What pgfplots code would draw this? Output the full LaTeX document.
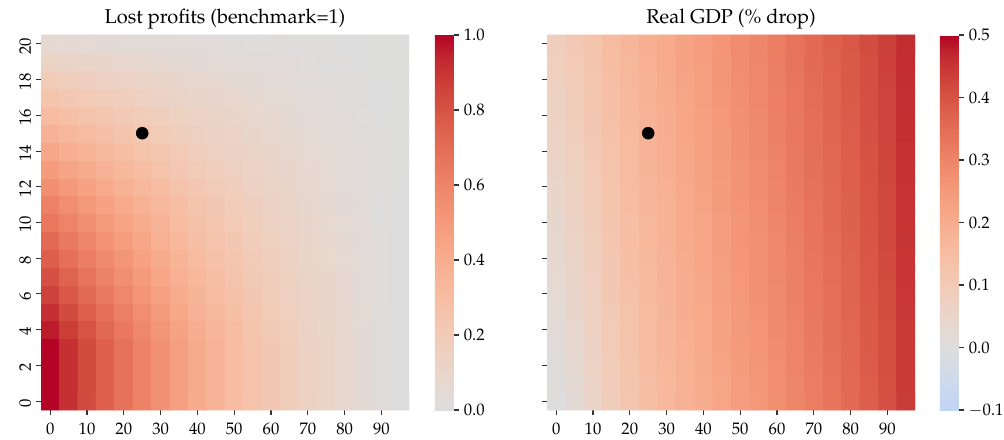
\documentclass[border=0pt]{standalone}
\usepackage[T1]{fontenc}
\usepackage{mathpazo}
\usepackage{pgfplots}
\pgfplotsset{compat=1.18}
\pgfplotsset{
  colormap={cwL}{rgb=(0.8654,0.8654,0.8654) rgb=(0.8978,0.8489,0.8209) rgb=(0.9241,0.8274,0.7745) rgb=(0.9445,0.8009,0.7267) rgb=(0.9589,0.7698,0.6780) rgb=(0.9673,0.7341,0.6288) rgb=(0.9700,0.6943,0.5794) rgb=(0.9668,0.6504,0.5303) rgb=(0.9580,0.6028,0.4818) rgb=(0.9437,0.5518,0.4342) rgb=(0.9239,0.4973,0.3880) rgb=(0.8990,0.4396,0.3432) rgb=(0.8692,0.3783,0.3003) rgb=(0.8346,0.3129,0.2593) rgb=(0.7956,0.2413,0.2205) rgb=(0.7525,0.1572,0.1841) rgb=(0.7057,0.0156,0.1502)},
  colormap={cwR}{rgb(0pt)=(0.7536,0.8302,0.9608) rgb(2pt)=(0.7615,0.8343,0.9569) rgb(12pt)=(0.7987,0.8498,0.9317) rgb(22pt)=(0.8335,0.8602,0.9011) rgb(32pt)=(0.8654,0.8654,0.8654) rgb(42pt)=(0.8978,0.8489,0.8209) rgb(52pt)=(0.9241,0.8274,0.7745) rgb(62pt)=(0.9445,0.8009,0.7267) rgb(72pt)=(0.9589,0.7698,0.6780) rgb(82pt)=(0.9673,0.7341,0.6288) rgb(92pt)=(0.9700,0.6943,0.5794) rgb(102pt)=(0.9668,0.6504,0.5303) rgb(112pt)=(0.9580,0.6028,0.4818) rgb(122pt)=(0.9437,0.5518,0.4342) rgb(132pt)=(0.9239,0.4973,0.3880) rgb(142pt)=(0.8990,0.4396,0.3432) rgb(152pt)=(0.8692,0.3783,0.3003) rgb(162pt)=(0.8346,0.3129,0.2593) rgb(172pt)=(0.7956,0.2413,0.2205) rgb(182pt)=(0.7525,0.1572,0.1841) rgb(192pt)=(0.7057,0.0156,0.1502)},
  heat/.style={
    scale only axis, width=265pt, height=270pt,
    xmin=-2.5, xmax=97.5, ymin=-0.5, ymax=20.5,
    axis line style={draw=none},
    tick align=outside, xtick pos=bottom, ytick pos=left,
    major tick length=3.6pt,
    tick style={line width=0.8pt, color=black!80},
    xtick={0,10,20,30,40,50,60,70,80,90},
    ytick={0,2,4,6,8,10,12,14,16,18,20},
    yticklabel style={rotate=90, anchor=south, xshift=-1.5pt},
    xticklabel style={yshift=-2pt},
    tick label style={font=\fontsize{12}{14}\selectfont},
    every axis title shift=0pt,
    title style={font=\fontsize{14.4}{17}\selectfont, at={(0.5,1)}, anchor=base, yshift=8.6pt},
    colorbar,
  },
  cbar/.style={
    at={(parent axis.south east)}, anchor=south west,
    scale only axis, width=13.7pt, height=270pt,
    axis line style={draw=none},
    xtick=\empty, ytick pos=right, yticklabel pos=right,
    tick align=outside, major tick length=3.6pt,
    tick style={line width=0.8pt, color=black!80},
    yticklabel style={font=\fontsize{12}{14}\selectfont, /pgf/number format/.cd, fixed, fixed zerofill, precision=1},
  },
}
\begin{document}
\begin{tikzpicture}
\useasboundingbox (-29.52pt,-20.88pt) rectangle (693.36pt,295.2pt);
\begin{axis}[heat, at={(0pt,0pt)}, anchor=south west,
  title={Lost profits (benchmark=1)},
  colormap name=cwL, point meta min=0, point meta max=1,
  colorbar style={cbar, xshift=10.1pt, ytick={0,0.2,0.4,0.6,0.8,1}}]
\addplot[matrix plot*, mesh/cols=20, point meta=explicit] coordinates {
(0,0)[1.00] (5,0)[0.91] (10,0)[0.83] (15,0)[0.75] (20,0)[0.68] (25,0)[0.61] (30,0)[0.54] (35,0)[0.47] (40,0)[0.41] (45,0)[0.36] (50,0)[0.31] (55,0)[0.26] (60,0)[0.22] (65,0)[0.18] (70,0)[0.14] (75,0)[0.11] (80,0)[0.08] (85,0)[0.05] (90,0)[0.02] (95,0)[0.005]
(0,1)[1.00] (5,1)[0.91] (10,1)[0.83] (15,1)[0.75] (20,1)[0.68] (25,1)[0.61] (30,1)[0.54] (35,1)[0.47] (40,1)[0.41] (45,1)[0.36] (50,1)[0.31] (55,1)[0.26] (60,1)[0.22] (65,1)[0.18] (70,1)[0.14] (75,1)[0.11] (80,1)[0.08] (85,1)[0.05] (90,1)[0.02] (95,1)[0.005]
(0,2)[1.00] (5,2)[0.91] (10,2)[0.83] (15,2)[0.75] (20,2)[0.68] (25,2)[0.61] (30,2)[0.54] (35,2)[0.47] (40,2)[0.41] (45,2)[0.36] (50,2)[0.31] (55,2)[0.26] (60,2)[0.22] (65,2)[0.18] (70,2)[0.14] (75,2)[0.11] (80,2)[0.08] (85,2)[0.05] (90,2)[0.02] (95,2)[0.005]
(0,3)[1.00] (5,3)[0.91] (10,3)[0.83] (15,3)[0.75] (20,3)[0.68] (25,3)[0.61] (30,3)[0.54] (35,3)[0.47] (40,3)[0.41] (45,3)[0.36] (50,3)[0.31] (55,3)[0.26] (60,3)[0.22] (65,3)[0.18] (70,3)[0.14] (75,3)[0.11] (80,3)[0.08] (85,3)[0.05] (90,3)[0.02] (95,3)[0.005]
(0,4)[0.96] (5,4)[0.874] (10,4)[0.797] (15,4)[0.72] (20,4)[0.653] (25,4)[0.586] (30,4)[0.518] (35,4)[0.451] (40,4)[0.394] (45,4)[0.346] (50,4)[0.298] (55,4)[0.25] (60,4)[0.211] (65,4)[0.173] (70,4)[0.134] (75,4)[0.106] (80,4)[0.077] (85,4)[0.048] (90,4)[0.019] (95,4)[0.005]
(0,5)[0.91] (5,5)[0.828] (10,5)[0.755] (15,5)[0.683] (20,5)[0.619] (25,5)[0.555] (30,5)[0.491] (35,5)[0.428] (40,5)[0.373] (45,5)[0.328] (50,5)[0.282] (55,5)[0.237] (60,5)[0.2] (65,5)[0.164] (70,5)[0.127] (75,5)[0.1] (80,5)[0.073] (85,5)[0.046] (90,5)[0.018] (95,5)[0.005]
(0,6)[0.86] (5,6)[0.783] (10,6)[0.714] (15,6)[0.645] (20,6)[0.585] (25,6)[0.525] (30,6)[0.464] (35,6)[0.404] (40,6)[0.353] (45,6)[0.31] (50,6)[0.267] (55,6)[0.224] (60,6)[0.189] (65,6)[0.155] (70,6)[0.12] (75,6)[0.095] (80,6)[0.069] (85,6)[0.043] (90,6)[0.017] (95,6)[0.004]
(0,7)[0.81] (5,7)[0.737] (10,7)[0.672] (15,7)[0.608] (20,7)[0.551] (25,7)[0.494] (30,7)[0.437] (35,7)[0.381] (40,7)[0.332] (45,7)[0.292] (50,7)[0.251] (55,7)[0.211] (60,7)[0.178] (65,7)[0.146] (70,7)[0.113] (75,7)[0.089] (80,7)[0.065] (85,7)[0.041] (90,7)[0.016] (95,7)[0.004]
(0,8)[0.76] (5,8)[0.692] (10,8)[0.631] (15,8)[0.57] (20,8)[0.517] (25,8)[0.464] (30,8)[0.41] (35,8)[0.357] (40,8)[0.312] (45,8)[0.274] (50,8)[0.236] (55,8)[0.198] (60,8)[0.167] (65,8)[0.137] (70,8)[0.106] (75,8)[0.084] (80,8)[0.061] (85,8)[0.038] (90,8)[0.015] (95,8)[0.004]
(0,9)[0.71] (5,9)[0.646] (10,9)[0.589] (15,9)[0.533] (20,9)[0.483] (25,9)[0.433] (30,9)[0.383] (35,9)[0.334] (40,9)[0.291] (45,9)[0.256] (50,9)[0.22] (55,9)[0.185] (60,9)[0.156] (65,9)[0.128] (70,9)[0.099] (75,9)[0.078] (80,9)[0.057] (85,9)[0.036] (90,9)[0.014] (95,9)[0.004]
(0,10)[0.66] (5,10)[0.601] (10,10)[0.548] (15,10)[0.495] (20,10)[0.449] (25,10)[0.403] (30,10)[0.356] (35,10)[0.31] (40,10)[0.271] (45,10)[0.238] (50,10)[0.205] (55,10)[0.172] (60,10)[0.145] (65,10)[0.119] (70,10)[0.092] (75,10)[0.073] (80,10)[0.053] (85,10)[0.033] (90,10)[0.013] (95,10)[0.003]
(0,11)[0.61] (5,11)[0.555] (10,11)[0.506] (15,11)[0.458] (20,11)[0.415] (25,11)[0.372] (30,11)[0.329] (35,11)[0.287] (40,11)[0.25] (45,11)[0.22] (50,11)[0.189] (55,11)[0.159] (60,11)[0.134] (65,11)[0.11] (70,11)[0.085] (75,11)[0.067] (80,11)[0.049] (85,11)[0.031] (90,11)[0.012] (95,11)[0.003]
(0,12)[0.55] (5,12)[0.501] (10,12)[0.457] (15,12)[0.413] (20,12)[0.374] (25,12)[0.336] (30,12)[0.297] (35,12)[0.259] (40,12)[0.226] (45,12)[0.198] (50,12)[0.171] (55,12)[0.143] (60,12)[0.121] (65,12)[0.099] (70,12)[0.077] (75,12)[0.061] (80,12)[0.044] (85,12)[0.028] (90,12)[0.011] (95,12)[0.003]
(0,13)[0.49] (5,13)[0.446] (10,13)[0.407] (15,13)[0.368] (20,13)[0.333] (25,13)[0.299] (30,13)[0.265] (35,13)[0.23] (40,13)[0.201] (45,13)[0.176] (50,13)[0.152] (55,13)[0.127] (60,13)[0.108] (65,13)[0.088] (70,13)[0.069] (75,13)[0.054] (80,13)[0.039] (85,13)[0.025] (90,13)[0.01] (95,13)[0.002]
(0,14)[0.43] (5,14)[0.391] (10,14)[0.357] (15,14)[0.323] (20,14)[0.292] (25,14)[0.262] (30,14)[0.232] (35,14)[0.202] (40,14)[0.176] (45,14)[0.155] (50,14)[0.133] (55,14)[0.112] (60,14)[0.095] (65,14)[0.077] (70,14)[0.06] (75,14)[0.047] (80,14)[0.034] (85,14)[0.022] (90,14)[0.009] (95,14)[0.002]
(0,15)[0.37] (5,15)[0.337] (10,15)[0.307] (15,15)[0.278] (20,15)[0.252] (25,15)[0.226] (30,15)[0.2] (35,15)[0.174] (40,15)[0.152] (45,15)[0.133] (50,15)[0.115] (55,15)[0.096] (60,15)[0.081] (65,15)[0.067] (70,15)[0.052] (75,15)[0.041] (80,15)[0.03] (85,15)[0.019] (90,15)[0.007] (95,15)[0.002]
(0,16)[0.31] (5,16)[0.282] (10,16)[0.257] (15,16)[0.233] (20,16)[0.211] (25,16)[0.189] (30,16)[0.167] (35,16)[0.146] (40,16)[0.127] (45,16)[0.112] (50,16)[0.096] (55,16)[0.081] (60,16)[0.068] (65,16)[0.056] (70,16)[0.043] (75,16)[0.034] (80,16)[0.025] (85,16)[0.016] (90,16)[0.006] (95,16)[0.002]
(0,17)[0.25] (5,17)[0.228] (10,17)[0.208] (15,17)[0.188] (20,17)[0.17] (25,17)[0.153] (30,17)[0.135] (35,17)[0.118] (40,17)[0.103] (45,17)[0.09] (50,17)[0.078] (55,17)[0.065] (60,17)[0.055] (65,17)[0.045] (70,17)[0.035] (75,17)[0.028] (80,17)[0.02] (85,17)[0.013] (90,17)[0.005] (95,17)[0.001]
(0,18)[0.19] (5,18)[0.173] (10,18)[0.158] (15,18)[0.143] (20,18)[0.129] (25,18)[0.116] (30,18)[0.103] (35,18)[0.089] (40,18)[0.078] (45,18)[0.068] (50,18)[0.059] (55,18)[0.049] (60,18)[0.042] (65,18)[0.034] (70,18)[0.027] (75,18)[0.021] (80,18)[0.015] (85,18)[0.01] (90,18)[0.004] (95,18)[0.001]
(0,19)[0.12] (5,19)[0.109] (10,19)[0.1] (15,19)[0.09] (20,19)[0.082] (25,19)[0.073] (30,19)[0.065] (35,19)[0.056] (40,19)[0.049] (45,19)[0.043] (50,19)[0.037] (55,19)[0.031] (60,19)[0.026] (65,19)[0.022] (70,19)[0.017] (75,19)[0.013] (80,19)[0.01] (85,19)[0.006] (90,19)[0.002] (95,19)[0.001]
(0,20)[0.065] (5,20)[0.059] (10,20)[0.054] (15,20)[0.049] (20,20)[0.044] (25,20)[0.04] (30,20)[0.035] (35,20)[0.031] (40,20)[0.027] (45,20)[0.023] (50,20)[0.02] (55,20)[0.017] (60,20)[0.014] (65,20)[0.012] (70,20)[0.009] (75,20)[0.007] (80,20)[0.005] (85,20)[0.003] (90,20)[0.001] (95,20)[0]
};
\addplot[only marks, mark=*, mark size=4.3pt, black] coordinates {(25,15)};
\end{axis}
\begin{axis}[heat, at={(364.32pt,0pt)}, anchor=south west,
  title={Real GDP (\% drop)}, yticklabels={},
  colormap name=cwR, point meta min=-0.1, point meta max=0.5,
  colorbar style={cbar, xshift=9.3pt, ytick={-0.1,0,0.1,0.2,0.3,0.4,0.5}}]
\addplot[matrix plot*, mesh/cols=20, point meta=explicit] coordinates {
(0,0)[0] (5,0)[0.025] (10,0)[0.055] (15,0)[0.090] (20,0)[0.120] (25,0)[0.145] (30,0)[0.165] (35,0)[0.185] (40,0)[0.200] (45,0)[0.220] (50,0)[0.240] (55,0)[0.255] (60,0)[0.275] (65,0)[0.295] (70,0)[0.315] (75,0)[0.335] (80,0)[0.355] (85,0)[0.380] (90,0)[0.405] (95,0)[0.440]
(0,1)[0.004] (5,1)[0.029] (10,1)[0.059] (15,1)[0.093] (20,1)[0.123] (25,1)[0.147] (30,1)[0.167] (35,1)[0.187] (40,1)[0.202] (45,1)[0.222] (50,1)[0.242] (55,1)[0.257] (60,1)[0.277] (65,1)[0.297] (70,1)[0.317] (75,1)[0.337] (80,1)[0.357] (85,1)[0.382] (90,1)[0.406] (95,1)[0.441]
(0,2)[0.009] (5,2)[0.033] (10,2)[0.062] (15,2)[0.096] (20,2)[0.125] (25,2)[0.150] (30,2)[0.169] (35,2)[0.189] (40,2)[0.204] (45,2)[0.224] (50,2)[0.244] (55,2)[0.259] (60,2)[0.279] (65,2)[0.299] (70,2)[0.319] (75,2)[0.339] (80,2)[0.359] (85,2)[0.383] (90,2)[0.408] (95,2)[0.442]
(0,3)[0.013] (5,3)[0.037] (10,3)[0.066] (15,3)[0.099] (20,3)[0.128] (25,3)[0.152] (30,3)[0.171] (35,3)[0.191] (40,3)[0.206] (45,3)[0.226] (50,3)[0.246] (55,3)[0.261] (60,3)[0.281] (65,3)[0.301] (70,3)[0.321] (75,3)[0.341] (80,3)[0.360] (85,3)[0.385] (90,3)[0.409] (95,3)[0.443]
(0,4)[0.017] (5,4)[0.041] (10,4)[0.069] (15,4)[0.102] (20,4)[0.131] (25,4)[0.154] (30,4)[0.174] (35,4)[0.193] (40,4)[0.208] (45,4)[0.228] (50,4)[0.248] (55,4)[0.263] (60,4)[0.283] (65,4)[0.303] (70,4)[0.323] (75,4)[0.343] (80,4)[0.362] (85,4)[0.386] (90,4)[0.411] (95,4)[0.444]
(0,5)[0.021] (5,5)[0.045] (10,5)[0.073] (15,5)[0.106] (20,5)[0.133] (25,5)[0.157] (30,5)[0.176] (35,5)[0.196] (40,5)[0.211] (45,5)[0.231] (50,5)[0.251] (55,5)[0.266] (60,5)[0.286] (65,5)[0.305] (70,5)[0.325] (75,5)[0.345] (80,5)[0.364] (85,5)[0.388] (90,5)[0.412] (95,5)[0.446]
(0,6)[0.026] (5,6)[0.049] (10,6)[0.077] (15,6)[0.109] (20,6)[0.136] (25,6)[0.159] (30,6)[0.178] (35,6)[0.198] (40,6)[0.213] (45,6)[0.233] (50,6)[0.253] (55,6)[0.268] (60,6)[0.288] (65,6)[0.307] (70,6)[0.327] (75,6)[0.346] (80,6)[0.366] (85,6)[0.390] (90,6)[0.413] (95,6)[0.447]
(0,7)[0.030] (5,7)[0.053] (10,7)[0.080] (15,7)[0.112] (20,7)[0.139] (25,7)[0.161] (30,7)[0.180] (35,7)[0.200] (40,7)[0.215] (45,7)[0.235] (50,7)[0.255] (55,7)[0.270] (60,7)[0.290] (65,7)[0.309] (70,7)[0.329] (75,7)[0.348] (80,7)[0.367] (85,7)[0.391] (90,7)[0.415] (95,7)[0.448]
(0,8)[0.034] (5,8)[0.057] (10,8)[0.084] (15,8)[0.115] (20,8)[0.141] (25,8)[0.164] (30,8)[0.182] (35,8)[0.202] (40,8)[0.217] (45,8)[0.237] (50,8)[0.257] (55,8)[0.272] (60,8)[0.292] (65,8)[0.311] (70,8)[0.331] (75,8)[0.350] (80,8)[0.369] (85,8)[0.393] (90,8)[0.416] (95,8)[0.449]
(0,9)[0.038] (5,9)[0.061] (10,9)[0.087] (15,9)[0.118] (20,9)[0.144] (25,9)[0.166] (30,9)[0.184] (35,9)[0.204] (40,9)[0.219] (45,9)[0.239] (50,9)[0.259] (55,9)[0.274] (60,9)[0.294] (65,9)[0.313] (70,9)[0.333] (75,9)[0.352] (80,9)[0.371] (85,9)[0.394] (90,9)[0.418] (95,9)[0.450]
(0,10)[0.043] (5,10)[0.065] (10,10)[0.091] (15,10)[0.121] (20,10)[0.147] (25,10)[0.169] (30,10)[0.187] (35,10)[0.206] (40,10)[0.221] (45,10)[0.241] (50,10)[0.261] (55,10)[0.276] (60,10)[0.296] (65,10)[0.316] (70,10)[0.335] (75,10)[0.354] (80,10)[0.373] (85,10)[0.396] (90,10)[0.419] (95,10)[0.451]
(0,11)[0.047] (5,11)[0.069] (10,11)[0.095] (15,11)[0.124] (20,11)[0.149] (25,11)[0.171] (30,11)[0.189] (35,11)[0.208] (40,11)[0.223] (45,11)[0.243] (50,11)[0.263] (55,11)[0.278] (60,11)[0.298] (65,11)[0.318] (70,11)[0.337] (75,11)[0.356] (80,11)[0.374] (85,11)[0.398] (90,11)[0.420] (95,11)[0.452]
(0,12)[0.051] (5,12)[0.073] (10,12)[0.098] (15,12)[0.127] (20,12)[0.152] (25,12)[0.173] (30,12)[0.191] (35,12)[0.210] (40,12)[0.225] (45,12)[0.245] (50,12)[0.265] (55,12)[0.280] (60,12)[0.300] (65,12)[0.320] (70,12)[0.339] (75,12)[0.358] (80,12)[0.376] (85,12)[0.399] (90,12)[0.422] (95,12)[0.453]
(0,13)[0.055] (5,13)[0.077] (10,13)[0.102] (15,13)[0.130] (20,13)[0.154] (25,13)[0.176] (30,13)[0.193] (35,13)[0.212] (40,13)[0.227] (45,13)[0.247] (50,13)[0.267] (55,13)[0.282] (60,13)[0.302] (65,13)[0.322] (70,13)[0.341] (75,13)[0.360] (80,13)[0.378] (85,13)[0.401] (90,13)[0.423] (95,13)[0.454]
(0,14)[0.060] (5,14)[0.081] (10,14)[0.105] (15,14)[0.133] (20,14)[0.157] (25,14)[0.178] (30,14)[0.195] (35,14)[0.214] (40,14)[0.229] (45,14)[0.249] (50,14)[0.269] (55,14)[0.284] (60,14)[0.304] (65,14)[0.324] (70,14)[0.343] (75,14)[0.362] (80,14)[0.380] (85,14)[0.402] (90,14)[0.425] (95,14)[0.455]
(0,15)[0.064] (5,15)[0.085] (10,15)[0.109] (15,15)[0.137] (20,15)[0.160] (25,15)[0.180] (30,15)[0.197] (35,15)[0.217] (40,15)[0.232] (45,15)[0.252] (50,15)[0.272] (55,15)[0.287] (60,15)[0.307] (65,15)[0.326] (70,15)[0.345] (75,15)[0.364] (80,15)[0.381] (85,15)[0.404] (90,15)[0.426] (95,15)[0.457]
(0,16)[0.068] (5,16)[0.089] (10,16)[0.113] (15,16)[0.140] (20,16)[0.162] (25,16)[0.183] (30,16)[0.199] (35,16)[0.219] (40,16)[0.234] (45,16)[0.254] (50,16)[0.274] (55,16)[0.289] (60,16)[0.309] (65,16)[0.328] (70,16)[0.347] (75,16)[0.365] (80,16)[0.383] (85,16)[0.406] (90,16)[0.427] (95,16)[0.458]
(0,17)[0.072] (5,17)[0.093] (10,17)[0.116] (15,17)[0.143] (20,17)[0.165] (25,17)[0.185] (30,17)[0.202] (35,17)[0.221] (40,17)[0.236] (45,17)[0.256] (50,17)[0.276] (55,17)[0.291] (60,17)[0.311] (65,17)[0.330] (70,17)[0.349] (75,17)[0.367] (80,17)[0.385] (85,17)[0.407] (90,17)[0.429] (95,17)[0.459]
(0,18)[0.077] (5,18)[0.097] (10,18)[0.120] (15,18)[0.146] (20,18)[0.168] (25,18)[0.187] (30,18)[0.204] (35,18)[0.223] (40,18)[0.238] (45,18)[0.258] (50,18)[0.278] (55,18)[0.293] (60,18)[0.313] (65,18)[0.332] (70,18)[0.351] (75,18)[0.369] (80,18)[0.387] (85,18)[0.409] (90,18)[0.430] (95,18)[0.460]
(0,19)[0.081] (5,19)[0.101] (10,19)[0.123] (15,19)[0.149] (20,19)[0.170] (25,19)[0.190] (30,19)[0.206] (35,19)[0.225] (40,19)[0.240] (45,19)[0.260] (50,19)[0.280] (55,19)[0.295] (60,19)[0.315] (65,19)[0.334] (70,19)[0.353] (75,19)[0.371] (80,19)[0.388] (85,19)[0.410] (90,19)[0.432] (95,19)[0.461]
(0,20)[0.085] (5,20)[0.105] (10,20)[0.127] (15,20)[0.152] (20,20)[0.173] (25,20)[0.192] (30,20)[0.208] (35,20)[0.227] (40,20)[0.242] (45,20)[0.262] (50,20)[0.282] (55,20)[0.297] (60,20)[0.317] (65,20)[0.336] (70,20)[0.355] (75,20)[0.373] (80,20)[0.390] (85,20)[0.412] (90,20)[0.433] (95,20)[0.462]
};
\addplot[only marks, mark=*, mark size=4.3pt, black] coordinates {(25,15)};
\end{axis}
\end{tikzpicture}
\end{document}
